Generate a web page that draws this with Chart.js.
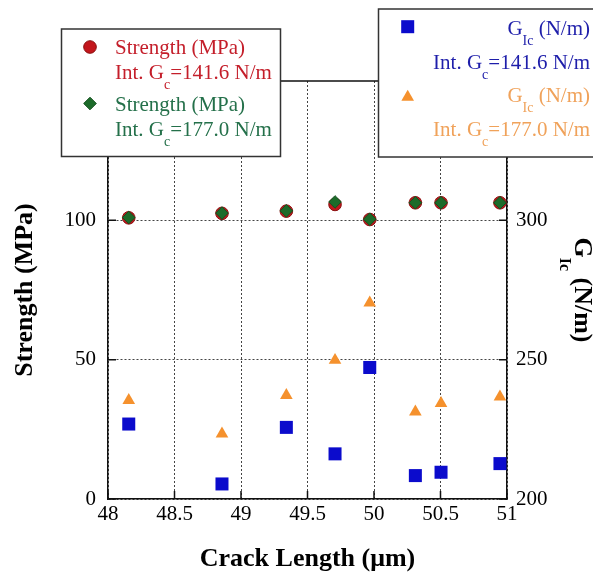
<!DOCTYPE html>
<html>
<head>
<meta charset="utf-8">
<script src="https://cdn.jsdelivr.net/npm/chart.js@4/dist/chart.umd.min.js"></script>
<style>
html,body{margin:0;padding:0;background:#fff;}
#wrap{position:relative;width:593px;height:577px;}
</style>
</head>
<body>
<div id="wrap"><canvas id="c" width="593" height="577"></canvas></div>
<script>
// ---- data ----
const crackLength   = [48.156, 48.857, 49.341, 49.707, 49.968, 50.311, 50.504, 50.947];
const strength1416  = [100.9, 102.5, 103.3, 105.7, 100.3, 106.3, 106.3, 106.3];
const strength1770  = [101.0, 102.6, 103.4, 106.6, 100.4, 106.3, 106.3, 106.3];
const gic1416       = [226.9, 205.4, 225.7, 216.2, 247.2, 208.4, 209.6, 212.7];
const gic1770       = [235.4, 223.4, 237.2, 249.8, 270.4, 231.3, 234.3, 236.7];
const xTicks        = [48, 48.5, 49, 49.5, 50, 50.5, 51];
const strengthTicks = [0, 50, 100];
const gicTicks      = [200, 250, 300];
const xTitle        = 'Crack Length (\u03bcm)';
const yTitle        = 'Strength (MPa)';
const y2Title       = ['G', 'Ic', ' (N/m)'];
const strengthLabel = 'Strength (MPa)';
const gicLabel      = ['G', 'Ic', ' (N/m)'];
const intLabel1416  = ['Int. G', 'c', '=141.6 N/m'];
const intLabel1770  = ['Int. G', 'c', '=177.0 N/m'];

const FAM = '"Liberation Serif", "Times New Roman", serif';
const tickFont = {family: FAM, size: 21};
const titleFont = {family: FAM, size: 26, weight: 'bold'};

const COL = {
  red: '#c3161c', redEdge: '#8a1010', redText: '#c41e2a',
  green: '#1c6b2a', greenEdge: '#14501e', greenText: '#24704a',
  blue: '#0b0bcc', blueText: '#1e1eaa',
  orange: '#f5912d', orangeText: '#f0a25a'
};
const R_CIRCLE = 6.3, R_DIAMOND = 6.3, R_SQUARE = 9.2, R_TRI = 7.3;

function pts(ys) { return crackLength.map((x, i) => ({x: x, y: ys[i]})); }

function drawRich(ctx, x, y, segs, color) {
  let cx = x;
  ctx.fillStyle = color;
  ctx.textBaseline = 'alphabetic';
  ctx.textAlign = 'left';
  segs.forEach(s => {
    ctx.font = s.font;
    ctx.fillText(s.t, cx, y + (s.dy || 0));
    cx += ctx.measureText(s.t).width;
  });
  return cx;
}
function richWidth(ctx, segs) {
  let w = 0;
  segs.forEach(s => { ctx.font = s.font; w += ctx.measureText(s.t).width; });
  return w;
}
const F21 = '21px ' + FAM, F14 = '14px ' + FAM;
function subSegs(arr) {
  return [{t: arr[0], font: F21}, {t: arr[1], font: F14, dy: 10}, {t: arr[2], font: F21}];
}

const decor = {
  id: 'decor',
  beforeDatasetsDraw(chart) {
    const {ctx, chartArea: a, scales} = chart;
    ctx.save();
    ctx.strokeStyle = '#111';
    ctx.lineWidth = 1.5;
    ctx.beginPath();
    ctx.moveTo(a.left, a.top); ctx.lineTo(a.right, a.top);
    xTicks.forEach(v => { const p = scales.x.getPixelForValue(v); ctx.moveTo(p, a.bottom); ctx.lineTo(p, a.bottom - 8); });
    strengthTicks.forEach(v => { const p = scales.y.getPixelForValue(v); ctx.moveTo(a.left, p); ctx.lineTo(a.left + 8, p); });
    gicTicks.forEach(v => { const p = scales.y2.getPixelForValue(v); ctx.moveTo(a.right, p); ctx.lineTo(a.right - 8, p); });
    ctx.stroke();
    ctx.restore();
  },
  afterDraw(chart) {
    const ctx = chart.ctx;
    ctx.save();
    // left legend box
    ctx.fillStyle = '#fff';
    ctx.strokeStyle = '#333';
    ctx.lineWidth = 1.5;
    ctx.fillRect(61.5, 29, 219, 127.5);
    ctx.strokeRect(61.5, 29, 219, 127.5);
    // right legend box
    ctx.fillRect(378.5, 9, 240, 148);
    ctx.strokeRect(378.5, 9, 240, 148);

    const H = Chart.helpers;
    // markers
    ctx.fillStyle = COL.red; ctx.strokeStyle = COL.redEdge; ctx.lineWidth = 1;
    H.drawPoint(ctx, {pointStyle: 'circle', radius: R_CIRCLE, rotation: 0, borderWidth: 1}, 90, 47);
    ctx.fillStyle = COL.green; ctx.strokeStyle = COL.greenEdge;
    H.drawPoint(ctx, {pointStyle: 'rectRot', radius: R_DIAMOND, rotation: 0, borderWidth: 1}, 90, 103.5);
    ctx.fillStyle = COL.blue; ctx.strokeStyle = COL.blue;
    H.drawPoint(ctx, {pointStyle: 'rect', radius: R_SQUARE, rotation: 0, borderWidth: 0}, 407.7, 26.7);
    ctx.fillStyle = COL.orange; ctx.strokeStyle = COL.orange;
    H.drawPoint(ctx, {pointStyle: 'triangle', radius: R_TRI, rotation: 0, borderWidth: 0}, 407.7, 97);

    // left legend text
    drawRich(ctx, 115, 54, [{t: strengthLabel, font: F21}], COL.redText);
    drawRich(ctx, 115, 79, subSegs(intLabel1416), COL.redText);
    drawRich(ctx, 115, 110.5, [{t: strengthLabel, font: F21}], COL.greenText);
    drawRich(ctx, 115, 135.5, subSegs(intLabel1770), COL.greenText);

    // right legend text (right aligned)
    const R = 590;
    let s;
    s = subSegs(gicLabel); drawRich(ctx, R - richWidth(ctx, s), 35, s, COL.blueText);
    s = subSegs(intLabel1416); drawRich(ctx, R - richWidth(ctx, s), 68.5, s, COL.blueText);
    s = subSegs(gicLabel); drawRich(ctx, R - richWidth(ctx, s), 101.5, s, COL.orangeText);
    s = subSegs(intLabel1770); drawRich(ctx, R - richWidth(ctx, s), 136, s, COL.orangeText);

    // right axis title (rotated clockwise)
    const FB = 'bold 26px ' + FAM, FBs = 'bold 16px ' + FAM;
    const tSegs = [{t: y2Title[0], font: FB}, {t: y2Title[1], font: FBs, dy: 15}, {t: y2Title[2], font: FB}];
    const tw = richWidth(ctx, tSegs);
    const a = chart.chartArea;
    const cy = (a.top + a.bottom) / 2;
    ctx.translate(575, cy - tw / 2);
    ctx.rotate(Math.PI / 2);
    drawRich(ctx, 0, 0, tSegs, '#000');
    ctx.restore();
  }
};

new Chart(document.getElementById('c'), {
  type: 'scatter',
  data: {
    datasets: [
      {label: 'Strength 177.0', data: pts(strength1770), yAxisID: 'y', pointStyle: 'rectRot', pointRadius: R_DIAMOND, pointHoverRadius: R_DIAMOND,
       backgroundColor: COL.green, borderColor: COL.greenEdge, borderWidth: 1},
      {label: 'Strength 141.6', data: pts(strength1416), yAxisID: 'y', pointStyle: 'circle', pointRadius: R_CIRCLE, pointHoverRadius: R_CIRCLE,
       backgroundColor: COL.red, borderColor: COL.redEdge, borderWidth: 1},
      {label: 'GIc 141.6', data: pts(gic1416), yAxisID: 'y2', pointStyle: 'rect', pointRadius: R_SQUARE, pointHoverRadius: R_SQUARE,
       backgroundColor: COL.blue, borderColor: COL.blue, borderWidth: 0},
      {label: 'GIc 177.0', data: pts(gic1770), yAxisID: 'y2', pointStyle: 'triangle', pointRadius: R_TRI, pointHoverRadius: R_TRI,
       backgroundColor: COL.orange, borderColor: COL.orange, borderWidth: 0}
    ]
  },
  options: {
    responsive: false,
    animation: false,
    devicePixelRatio: 1,
    layout: {padding: {top: 81, left: 0, right: 0, bottom: 0}},
    plugins: {legend: {display: false}, tooltip: {enabled: false}},
    scales: {
      x: {
        type: 'linear', position: 'bottom', min: 48, max: 51,
        afterBuildTicks: sc => { sc.ticks = xTicks.map(v => ({value: v})); },
        afterFit: sc => { sc.height = 78; },
        ticks: {font: tickFont, color: '#000', padding: 3, maxRotation: 0, autoSkip: false, callback: v => String(v)},
        grid: {color: '#444', lineWidth: 1, drawTicks: false},
        border: {display: true, color: '#111', width: 1.5, dash: [2, 2]},
        title: {display: true, text: xTitle, font: titleFont, color: '#000', padding: {top: 0, bottom: 2}}
      },
      y: {
        type: 'linear', position: 'left', min: 0, max: 150,
        afterBuildTicks: sc => { sc.ticks = strengthTicks.map(v => ({value: v})); },
        afterFit: sc => { sc.width = 108; },
        ticks: {font: tickFont, color: '#000', padding: 12, autoSkip: false, callback: v => String(v)},
        grid: {color: '#444', lineWidth: 1, drawTicks: false},
        border: {display: true, color: '#111', width: 1.5, dash: [2, 2]},
        title: {display: true, text: yTitle, font: titleFont, color: '#000', padding: {top: 10, bottom: 0}}
      },
      y2: {
        type: 'linear', position: 'right', min: 200, max: 350,
        afterBuildTicks: sc => { sc.ticks = gicTicks.map(v => ({value: v})); },
        afterFit: sc => { sc.width = 86; },
        ticks: {font: tickFont, color: '#000', padding: 9, autoSkip: false, callback: v => String(v)},
        grid: {drawOnChartArea: false, drawTicks: false},
        border: {display: true, color: '#111', width: 1.5}
      }
    }
  },
  plugins: [decor]
});
</script>
</body>
</html>
